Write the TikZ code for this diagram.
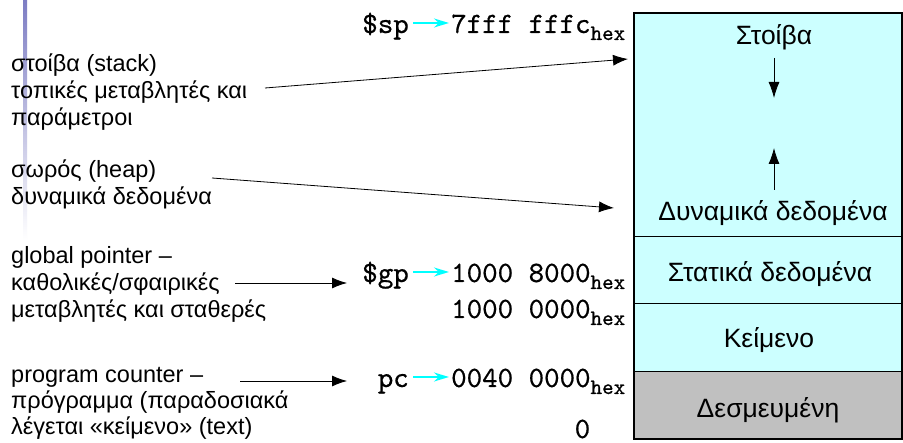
\documentclass[tikz,border=0pt]{standalone}
\usepackage{fontspec}
\setmainfont{Liberation Sans}
\newfontfamily\monofont{lmmono10-regular.otf}[FakeBold=0.6]
\usetikzlibrary{arrows.meta}
\definecolor{memcyan}{RGB}{204,255,255}
\definecolor{memgray}{RGB}{192,192,192}
\definecolor{barblue}{RGB}{125,125,195}
\definecolor{ptrcyan}{RGB}{0,255,255}
\tikzset{
 lbl/.style={anchor=base west, inner sep=0pt, font=\fontsize{23.5}{23.5}\selectfont},
 boxlbl/.style={anchor=base, inner sep=0pt, font=\fontsize{26.5}{26.5}\selectfont},
 reg/.style={anchor=base east, inner sep=0pt, font=\monofont\fontsize{29.5}{29.5}\selectfont},
 val/.style={anchor=base west, inner sep=0pt, font=\monofont\fontsize{29.5}{29.5}\selectfont},
 ptr/.style={-{Latex[length=15pt,width=11pt]}, line width=0.8pt},
 cyanptr/.style={-{Stealth[length=15pt,width=9pt]}, ptrcyan, line width=1.8pt},
 inarrow/.style={-{Latex[length=16pt,width=11pt]}, line width=0.8pt},
}
\newcommand{\hexsub}{\raisebox{-7pt}{\fontsize{22}{22}\selectfont hex}}
\begin{document}
\begin{tikzpicture}[x=1pt,y=-1pt]
\useasboundingbox (0,0) rectangle (903,443);
\fill[white] (0,0) rectangle (903,443);
\shade[top color=barblue, bottom color=white] (23,0) rectangle (27,240);
% memory box
\fill[memcyan] (634,13) rectangle (902,372);
\fill[memgray] (634,372) rectangle (902,439);
\draw[line width=1pt] (634,237) -- (902,237);
\draw[line width=1pt] (634,304) -- (902,304);
\draw[line width=1pt] (634,372) -- (902,372);
\draw[line width=2pt] (634,13) rectangle (902,439);
% box labels
\node[boxlbl] (stoiva) at (774,45) {Στοίβα};
\node[boxlbl] (dyn) at (773,221) {Δυναμικά δεδομένα};
\node[boxlbl] (stat) at (770,282) {Στατικά δεδομένα};
\node[boxlbl] (keim) at (769,348) {Κείμενο};
\node[boxlbl] (desm) at (768,418) {Δεσμευμένη};
\coordinate (dn1) at (774,58); \coordinate (dn2) at (774,98);
\coordinate (up1) at (774,190); \coordinate (up2) at (774,148);
\draw[inarrow] (dn1) -- (dn2);
\draw[inarrow] (up1) -- (up2);
% left labels
\node[lbl] (a1) at (11,72) {στοίβα (stack)};
\node[lbl] (a2) at (11,99) {τοπικές μεταβλητές και};
\node[lbl] (a3) at (11,126) {παράμετροι};
\node[lbl] (b1) at (11,178) {σωρός (heap)};
\node[lbl] (b2) at (11,205) {δυναμικά δεδομένα};
\node[lbl] (c1) at (11,264) {global pointer –};
\node[lbl] (c2) at (11,291) {καθολικές/σφαιρικές};
\node[lbl] (c3) at (11,318) {μεταβλητές και σταθερές};
\node[lbl] (d1) at (11,383) {program counter –};
\node[lbl] (d2) at (11,409) {πρόγραμμα (παραδοσιακά};
\node[lbl] (d3) at (11,435) {λέγεται «κείμενο» (text)};
% addresses
\node[reg] (sp) at (409,33) {\$sp};
\node[val] (spv) at (451,33) {7fff fffc\hexsub};
\node[reg] (gp) at (409,282) {\$gp};
\node[val] (gpv) at (451,282) {1000 8000\hexsub};
\node[val] (sdv) at (451,318) {1000 0000\hexsub};
\node[reg] (pc) at (409,387) {pc};
\node[val] (pcv) at (451,387) {0040 0000\hexsub};
\node[reg] (zero) at (590.4,438) {0};
\draw[cyanptr] ([xshift=4pt,yshift=10pt]sp.base east) -- ([xshift=-2pt,yshift=10pt]spv.base west);
\draw[cyanptr] ([xshift=4pt,yshift=10pt]gp.base east) -- ([xshift=-2pt,yshift=10pt]gpv.base west);
\draw[cyanptr] ([xshift=4pt,yshift=10pt]pc.base east) -- ([xshift=-2pt,yshift=10pt]pcv.base west);
% pointers
\coordinate (s0) at (265,88); \coordinate (s1) at (628,59);
\coordinate (h0) at (212,178); \coordinate (h1) at (614,208);
\coordinate (g0) at (235,283); \coordinate (g1) at (347,283);
\coordinate (p0) at (240,381); \coordinate (p1) at (347,381);
\draw[ptr] (s0) -- (s1);
\draw[ptr] (h0) -- (h1);
\draw[ptr] (g0) -- (g1);
\draw[ptr] (p0) -- (p1);
\end{tikzpicture}
\end{document}
